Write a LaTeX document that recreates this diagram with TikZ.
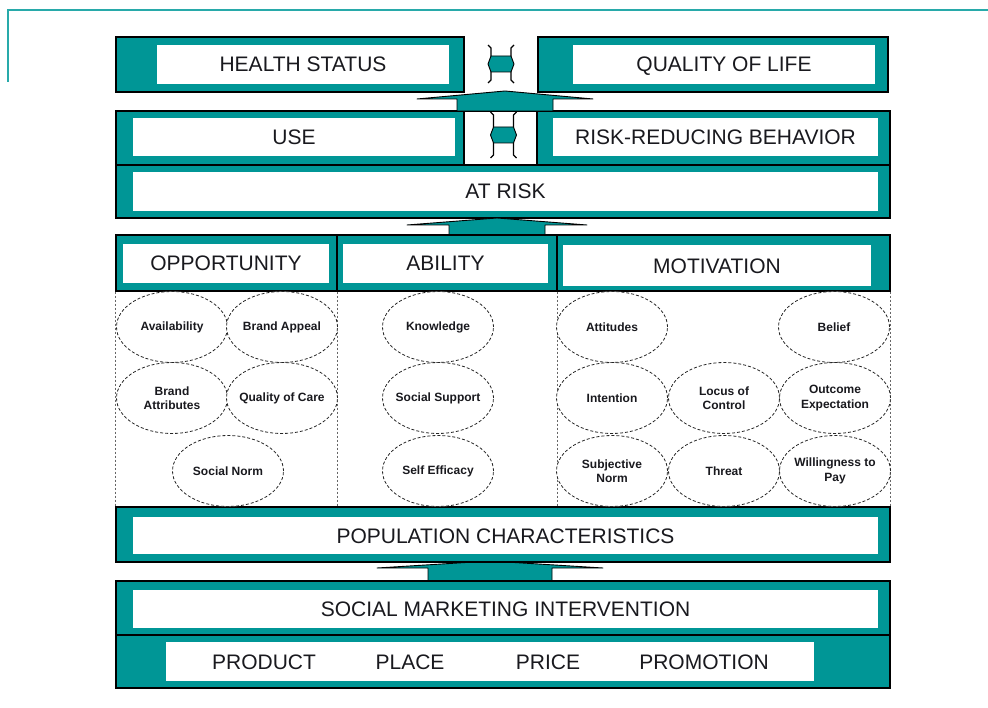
\documentclass[tikz,border=0pt]{standalone}
\usepackage{fontspec}
\setmainfont{Liberation Sans}
\usetikzlibrary{shapes.geometric}
\definecolor{smteal}{RGB}{0,150,150}
\definecolor{slideline}{RGB}{40,170,170}
\definecolor{ink}{RGB}{25,25,30}
\begin{document}
\begin{tikzpicture}[x=1pt,y=-1pt,
  tealbox/.style={draw=black,fill=smteal,line width=1.2pt,inner sep=0pt},
  whitebox/.style={fill=white,text=ink,inner sep=0pt,text height=15pt,text depth=0pt,
    font=\fontsize{21}{21}\selectfont},
  rowframe/.style={draw=black,fill=white,line width=1.2pt,inner sep=0pt},
  factor/.style={ellipse,draw=black!85,densely dashed,line width=0.8pt,fill=white,
    minimum width=111pt,minimum height=71pt,inner xsep=-30pt,inner ysep=-10pt,
    align=center,text=ink,font=\fontsize{12}{14.5}\selectfont\bfseries},
  sep/.style={draw=black!60,dash pattern=on 2pt off 2pt,line width=0.7pt},
  blk/.style={draw=black,fill=smteal,line width=0.9pt,line join=round}]
\useasboundingbox (0,0) rectangle (988,708);
\draw[slideline,line width=1.3pt] (8,82) -- (8,10) -- (988,10);

% outcomes
\node[tealbox,minimum width=348pt,minimum height=55pt] (hsbox) at (290,64.5) {};
\node[whitebox,minimum width=292pt,minimum height=39pt] (hs) at (303,64.5) {HEALTH STATUS};
\node[tealbox,minimum width=350pt,minimum height=55pt] (qlbox) at (713,64.5) {};
\node[whitebox,minimum width=302pt,minimum height=39pt] (ql) at (724,64.5) {QUALITY OF LIFE};

% behaviour
\node[rowframe,minimum width=774pt,minimum height=54pt] (row2) at (503,138) {};
\node[tealbox,minimum width=348pt,minimum height=54pt] (usebox) at (290,138) {};
\node[whitebox,minimum width=322pt,minimum height=38pt] (use) at (294,137) {USE};
\node[tealbox,minimum width=353pt,minimum height=54pt] (rrbbox) at (713.5,138) {};
\node[whitebox,minimum width=325pt,minimum height=38pt] (rrb) at (715.5,137) {RISK-REDUCING BEHAVIOR};
\node[tealbox,minimum width=774pt,minimum height=53pt] (atriskbox) at (503,191.5) {};
\node[whitebox,minimum width=745pt,minimum height=39pt] (atrisk) at (505.5,191.5) {AT RISK};

% two-way links
\foreach \c/\h/\s in {501/64/19, 503.5/135/23}{
  \filldraw[blk] (\c,\h) ++(-13,0) -- ++(3,-8) -- ++(20,0) -- ++(3,8) -- ++(-3,8) -- ++(-20,0) -- cycle;
  \draw[line width=1.3pt] (\c,\h) ++(-10,-8) -- ++(0,8-\s+3) -- ++(-3,-3)
                          (\c,\h) ++(10,-8) -- ++(0,8-\s+3) -- ++(3,-3)
                          (\c,\h) ++(-10,8) -- ++(0,\s-8-3) -- ++(-3,3)
                          (\c,\h) ++(10,8) -- ++(0,\s-8-3) -- ++(3,3);
}

% upward arrows
\coordinate (a1) at (505,111);
\coordinate (a2) at (497,236);
\coordinate (a3) at (490,581);
\filldraw[blk] (a1) ++(-48,0) -- ++(0,-12) -- ++(-40,0) -- ++(88,-8) -- ++(88,8) -- ++(-40,0) -- ++(0,12) -- cycle;
\filldraw[blk] (a2) ++(-48,0) -- ++(0,-11) -- ++(-42,0) -- ++(90,-7) -- ++(90,7) -- ++(-42,0) -- ++(0,11) -- cycle;
\filldraw[blk] (a3) ++(-62,0) -- ++(0,-13) -- ++(-51,0) -- ++(113,-7) -- ++(113,7) -- ++(-51,0) -- ++(0,13) -- cycle;

% determinants
\node[tealbox,minimum width=221pt,minimum height=56pt] (oppbox) at (226.5,263) {};
\node[whitebox,minimum width=206pt,minimum height=39pt] (opp) at (226,263.5) {OPPORTUNITY};
\node[tealbox,minimum width=220pt,minimum height=56pt] (abilbox) at (447,263) {};
\node[whitebox,minimum width=205pt,minimum height=39pt] (abil) at (445.5,263.5) {ABILITY};
\node[tealbox,minimum width=333pt,minimum height=56pt] (motivbox) at (723.5,263) {};
\node[whitebox,minimum width=308pt,minimum height=41pt] (motiv) at (717,266) {MOTIVATION};

\node[tealbox,minimum width=774pt,minimum height=55pt] (popbox) at (503,534.5) {};
\node[whitebox,minimum width=745pt,minimum height=37pt] (pop) at (505.5,535.5) {POPULATION CHARACTERISTICS};

\draw[sep] (oppbox.south west) -- (oppbox.south west |- popbox.north);
\draw[sep] (oppbox.south east) -- (oppbox.south east |- popbox.north);
\draw[sep] (abilbox.south east) -- (abilbox.south east |- popbox.north);
\draw[sep] (motivbox.south east) -- (motivbox.south east |- popbox.north);

\node[factor] (avail) at (172,327) {Availability};
\node[factor] (bappeal) at (282,327) {Brand Appeal};
\node[factor] (battr) at (172,398) {Brand\\Attributes};
\node[factor] (qcare) at (282,398) {Quality of Care};
\node[factor] (snorm) at (228,471) {Social Norm};

\node[factor] (know) at (438,327) {Knowledge};
\node[factor] (ssupp) at (438,398) {Social Support};
\node[factor] (seff) at (438,471) {Self Efficacy};

\node[factor] (att) at (612,327) {Attitudes};
\node[factor] (belief) at (834,327) {Belief};
\node[factor] (intent) at (612,398) {Intention};
\node[factor] (locus) at (724,398) {Locus of\\Control};
\node[factor] (outexp) at (835,398) {Outcome\\Expectation};
\node[factor] (subjn) at (612,471) {Subjective\\Norm};
\node[factor] (threat) at (724,471) {Threat};
\node[factor] (wtp) at (835,471) {Willingness to\\Pay};

% intervention
\node[tealbox,minimum width=774pt,minimum height=54pt] (smibox) at (503,608) {};
\node[whitebox,minimum width=745pt,minimum height=38pt] (smi) at (505.5,609) {SOCIAL MARKETING INTERVENTION};
\node[tealbox,minimum width=774pt,minimum height=53pt] (mixbox) at (503,661.5) {};
\node[whitebox,minimum width=648pt,minimum height=39pt] (mix) at (490,661.5) {};
\node[whitebox] (product) at (264,661.5) {PRODUCT};
\node[whitebox] (place) at (410,661.5) {PLACE};
\node[whitebox] (price) at (548,661.5) {PRICE};
\node[whitebox] (promo) at (704,661.5) {PROMOTION};
\end{tikzpicture}
\end{document}
